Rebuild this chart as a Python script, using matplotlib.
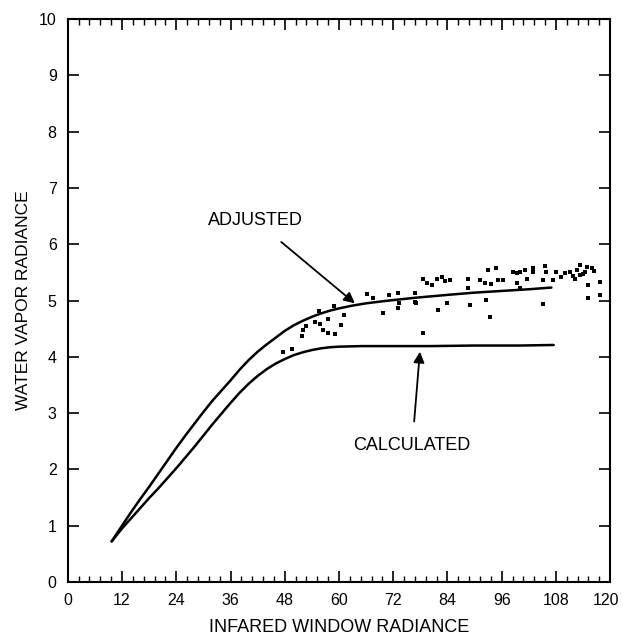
import matplotlib
matplotlib.use("Agg")
import matplotlib.pyplot as plt
import matplotlib.transforms as mtransforms
from matplotlib.ticker import MultipleLocator

plt.rcParams['font.family'] = ['Liberation Sans', 'DejaVu Sans']

# Curves
adj_x = [9.7, 12, 14, 16, 18, 20, 22, 24, 26, 28, 30, 32, 34, 36, 38, 40, 42, 44, 46, 48, 50,
         52, 54, 56, 58, 60, 63, 66, 70, 77, 84, 90, 96, 102, 107]
adj_y = [0.72, 1.00, 1.24, 1.47, 1.69, 1.92, 2.15, 2.38, 2.60, 2.81, 3.02, 3.22, 3.40, 3.58, 3.77,
         3.94, 4.09, 4.22, 4.34, 4.46, 4.56, 4.64, 4.71, 4.77, 4.82, 4.86, 4.91, 4.95, 4.99, 5.05,
         5.10, 5.14, 5.17, 5.20, 5.23]

calc_x = [9.7, 12, 14, 16, 18, 20, 22, 24, 26, 28, 30, 32, 34, 36, 38, 40, 42, 44, 46, 48, 50,
          52, 54, 56, 58, 60, 65, 70, 80, 90, 100, 107.5]
calc_y = [0.72, 0.95, 1.13, 1.31, 1.49, 1.66, 1.84, 2.02, 2.21, 2.40, 2.60, 2.80, 2.99, 3.18, 3.36,
          3.52, 3.66, 3.78, 3.88, 3.96, 4.03, 4.08, 4.12, 4.15, 4.17, 4.18, 4.19, 4.19, 4.19, 4.20,
          4.20, 4.21]

# Measured points
pts_x = [47.6, 49.7, 51.9, 52.1, 52.6, 54.6, 55.9, 56.5, 57.6, 59.1, 57.6, 55.5, 58.9, 60.5, 61.1,
         66.1, 67.5, 69.8, 71.1, 73.1, 73.1, 73.3, 76.8, 77.1,
         76.8, 78.6, 79.4, 80.5, 81.6, 82.7, 83.4, 84.5, 88.6, 88.6, 88.9, 93.0, 94.8, 93.4, 92.6,
         91.2, 92.3, 93.7, 95.2, 96.3, 98.5, 99.3, 100.0, 101.1, 101.5, 99.3, 100.0, 102.9, 102.9,
         105.5, 105.9, 105.2, 105.2, 108.1, 107.4, 109.2, 110.0, 111.1, 112.2, 113.3, 114.4, 115.9,
         113.3, 115.1, 115.1, 117.7, 117.7, 83.8, 81.9, 78.6, 112.6, 113.9, 114.8, 116.4, 111.7]
pts_y = [4.09, 4.13, 4.37, 4.48, 4.55, 4.62, 4.59, 4.48, 4.43, 4.40, 4.68, 4.82, 4.90, 4.56, 4.74,
         5.12, 5.04, 4.78, 5.10, 5.14, 4.86, 4.95, 5.14, 4.95,
         4.98, 5.39, 5.31, 5.28, 5.39, 5.42, 5.35, 5.36, 5.39, 5.22, 4.92, 5.54, 5.58, 4.71, 5.01,
         5.36, 5.31, 5.29, 5.36, 5.36, 5.51, 5.48, 5.51, 5.54, 5.39, 5.31, 5.22, 5.57, 5.50,
         5.62, 5.51, 5.36, 4.93, 5.51, 5.36, 5.42, 5.48, 5.51, 5.39, 5.63, 5.51, 5.57,
         5.45, 5.28, 5.04, 5.33, 5.10, 4.95, 4.83, 4.42, 5.55, 5.47, 5.60, 5.52, 5.44]

x_ticks = [0, 12, 24, 36, 48, 60, 72, 84, 96, 108, 120]
y_ticks = [0, 1, 2, 3, 4, 5, 6, 7, 8, 9, 10]

fig = plt.figure(figsize=(6.22, 6.36), dpi=100)
ax = fig.add_axes([0.109, 0.085, 0.872, 0.885])

ax.plot(adj_x, adj_y, color='black', lw=1.8, solid_capstyle='round', solid_joinstyle='round')
ax.plot(calc_x, calc_y, color='black', lw=1.8, solid_capstyle='round', solid_joinstyle='round')
ax.scatter(pts_x, pts_y, s=6, color='black', marker='s', linewidths=0)

ax.set_xlim(0, 120)
ax.set_ylim(0, 10)
ax.set_xticks(x_ticks)
ax.set_yticks(y_ticks)
ax.xaxis.set_minor_locator(MultipleLocator(2.4))
ax.tick_params(axis='x', which='both', direction='in', top=True, bottom=True)
ax.tick_params(axis='y', which='both', direction='in', left=True, right=True)
ax.tick_params(which='major', length=8, width=1.2, labelsize=11.5, pad=8)
ax.tick_params(which='minor', length=4, width=1.0)
for s in ax.spines.values():
    s.set_linewidth(1.5)

ax.set_xlabel('INFARED WINDOW RADIANCE', fontsize=13, labelpad=8)
ax.set_ylabel('WATER VAPOR RADIANCE', fontsize=12.5, labelpad=6)

# keep the last x tick label inside the figure
fig.canvas.draw()
last = ax.get_xticklabels()[-1]
last.set_transform(last.get_transform() + mtransforms.ScaledTranslation(-4 / 100, 0, fig.dpi_scale_trans))

ax.annotate('ADJUSTED', xy=(63.5, 4.95), xytext=(41.4, 6.43), ha='center', va='center', fontsize=13,
            arrowprops=dict(arrowstyle='-|>', color='black', lw=1.3, mutation_scale=16,
                            shrinkA=12, shrinkB=0))
ax.annotate('CALCULATED', xy=(77.9, 4.09), xytext=(76.2, 2.43), ha='center', va='center', fontsize=13,
            arrowprops=dict(arrowstyle='-|>', color='black', lw=1.3, mutation_scale=16,
                            shrinkA=9, shrinkB=0))

fig.savefig('out.png', dpi=100)
